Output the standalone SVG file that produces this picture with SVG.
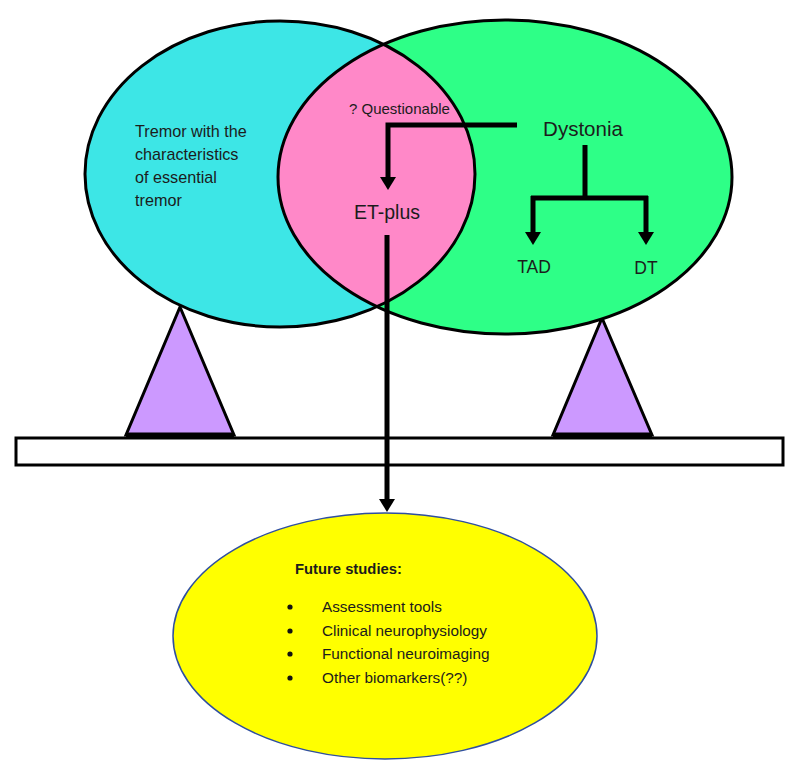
<svg xmlns="http://www.w3.org/2000/svg" width="800" height="776" viewBox="0 0 800 776">
<style>
.t{font-family:"Liberation Sans",Arial,sans-serif;fill:#1c1c1c}
.ol{fill:none;stroke:#000;stroke-width:3}
.c{fill:none;stroke:#000;stroke-width:5;stroke-linejoin:miter}
.tri{fill:#cc99ff;stroke:#000;stroke-width:3;stroke-linejoin:miter}
</style>
<defs>
<clipPath id="cyanClip"><ellipse cx="280" cy="174" rx="195" ry="153"/></clipPath>
<marker id="ah" markerUnits="userSpaceOnUse" viewBox="0 0 13 16" markerWidth="13" markerHeight="16" refX="2" refY="8" orient="auto">
<path d="M0,0 L13,8 L0,16 z" fill="#000"/>
</marker>
</defs>
<rect width="800" height="776" fill="#fff"/>
<g id="left-support"><polygon class="tri" points="180,307 126,435 234,435"/><line x1="126" y1="435" x2="234" y2="435" stroke="#000" stroke-width="5"/></g>
<g id="right-support"><polygon class="tri" points="602,318 553,435 652,435"/><line x1="553" y1="435" x2="652" y2="435" stroke="#000" stroke-width="5"/></g>
<g id="beam"><rect x="16" y="438" width="767" height="27" fill="#fff" stroke="#000" stroke-width="3"/></g>
<g id="et-circle">
<ellipse cx="280" cy="174" rx="195" ry="153" fill="#3de6e6"/>
</g>
<g id="dystonia-circle">
<ellipse cx="505" cy="177" rx="227" ry="157" fill="#2eff87"/>
</g>
<g id="overlap">
<ellipse cx="505" cy="177" rx="227" ry="157" fill="#ff88c8" clip-path="url(#cyanClip)"/>
</g>
<g id="outlines">
<ellipse class="ol" cx="280" cy="174" rx="195" ry="153"/>
<ellipse class="ol" cx="505" cy="177" rx="227" ry="157"/>
</g>
<g id="tremor-label">
<text class="t" x="135" y="137" font-size="16.2">Tremor with the</text>
<text class="t" x="135" y="160" font-size="16.2">characteristics</text>
<text class="t" x="135" y="183" font-size="16.2">of essential</text>
<text class="t" x="135" y="206" font-size="16.2">tremor</text>
</g>
<g id="questionable"><text class="t" x="349" y="114" font-size="15" fill="#2a1030">? Questionable</text></g>
<g id="et-plus"><text class="t" x="387" y="219" font-size="19.5" text-anchor="middle">ET-plus</text></g>
<g id="dystonia"><text class="t" x="583" y="136" font-size="20.5" text-anchor="middle">Dystonia</text></g>
<g id="tad"><text class="t" x="534" y="273" font-size="17.5" text-anchor="middle">TAD</text></g>
<g id="dt"><text class="t" x="646" y="274" font-size="17.5" text-anchor="middle">DT</text></g>
<g id="connectors">
<path class="c" d="M517,125 H388 V179" marker-end="url(#ah)"/>
<path class="c" d="M585,145 V198"/>
<path class="c" d="M531,198 H648"/>
<path class="c" d="M533,196 V234" marker-end="url(#ah)"/>
<path class="c" d="M646,196 V234" marker-end="url(#ah)"/>
<path class="c" d="M387,235 V501" marker-end="url(#ah)"/>
</g>
<g id="future-studies">
<ellipse cx="385" cy="636" rx="212" ry="123" fill="#ffff00" stroke="#2f4fa0" stroke-width="1.5"/>
<text class="t" x="295" y="574" font-size="14.8" font-weight="bold">Future studies:</text>
<circle cx="290" cy="607" r="2.6" fill="#111"/>
<circle cx="290" cy="631" r="2.6" fill="#111"/>
<circle cx="290" cy="654" r="2.6" fill="#111"/>
<circle cx="290" cy="678" r="2.6" fill="#111"/>
<text class="t" x="322" y="612" font-size="15.3">Assessment tools</text>
<text class="t" x="322" y="636" font-size="15.3">Clinical neurophysiology</text>
<text class="t" x="322" y="659" font-size="15.3">Functional neuroimaging</text>
<text class="t" x="322" y="683" font-size="15.3">Other biomarkers(??)</text>
</g>
</svg>
